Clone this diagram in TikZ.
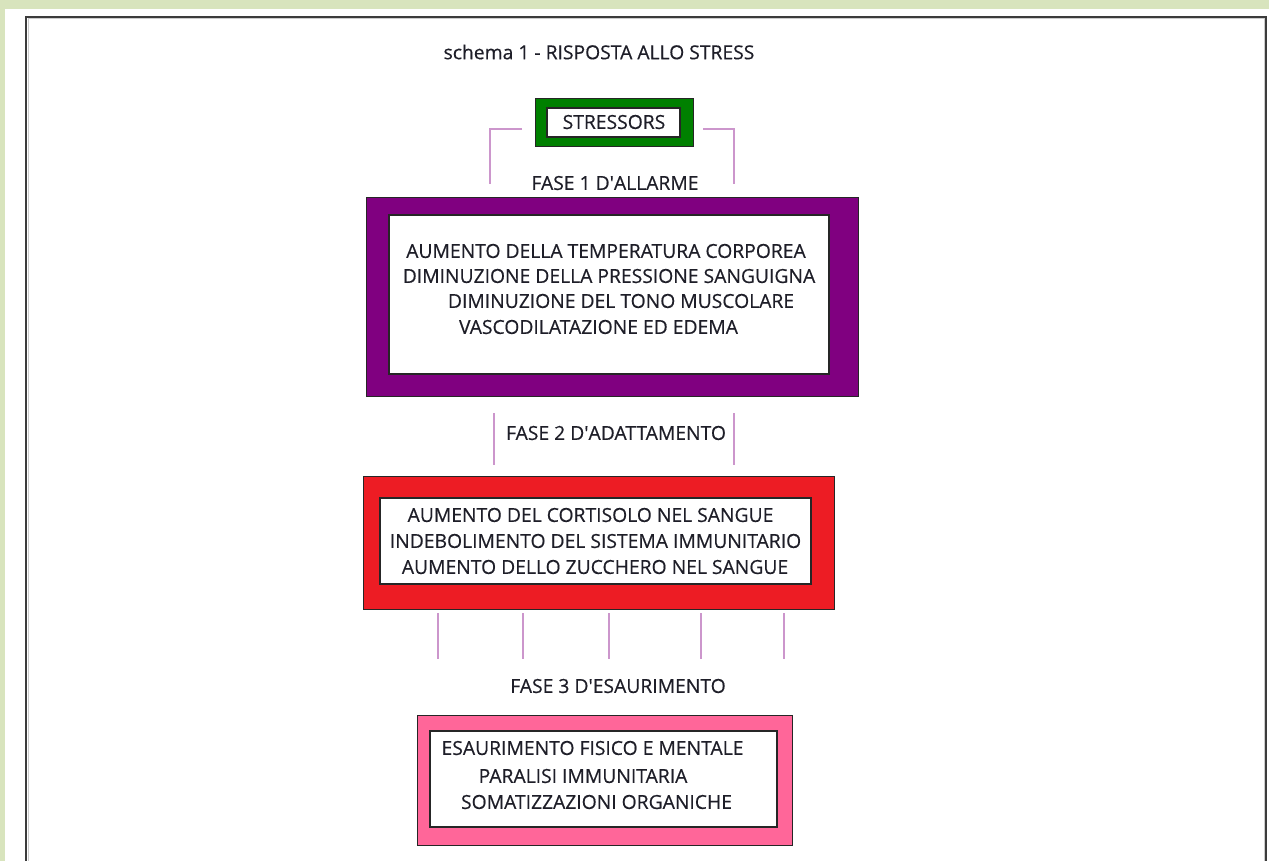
\documentclass[tikz,border=0pt]{standalone}
\usepackage{fontspec}
\setmainfont{Open Sans}
\newfontfamily\diafont{Open Sans}[FakeBold=0.4]
\definecolor{pagegreen}{RGB}{216,228,189}
\definecolor{framegray}{RGB}{60,60,60}
\definecolor{txt}{RGB}{30,30,40}
\definecolor{linkpink}{RGB}{204,150,204}
\definecolor{stressgreen}{RGB}{0,128,0}
\definecolor{alarmpurple}{RGB}{128,0,128}
\definecolor{adaptred}{RGB}{237,28,36}
\definecolor{exhaustpink}{RGB}{255,102,153}
\newcommand{\apo}{\textquotesingle}
\tikzset{
  outerbox/.style={draw=black!85, line width=1pt, inner sep=0pt},
  innerbox/.style={draw=black!85, fill=white, line width=1.4pt, inner sep=0pt},
  line/.style={text=txt, inner sep=0pt, font=\diafont\fontsize{19.3}{22}\selectfont},
  link/.style={draw=linkpink, line width=2pt},
}
\begin{document}
\begin{tikzpicture}[x=1pt, y=-1pt]
  % page background and frame
  \fill[pagegreen] (0,0) rectangle (1269,861);
  \fill[white] (5,9) rectangle (1269,861);
  \useasboundingbox (0,0) rectangle (1269,861);
  \draw[black!20, line width=1pt] (28,861) -- (28,19) -- (1264,19) -- (1264,861);
  \draw[framegray, line width=2pt] (26,861) -- (26,17) -- (1266,17) -- (1266,861);

  % title
  \node[line] (title) at (599,52) {schema 1 - RISPOSTA ALLO STRESS};

  % stressors
  \node[outerbox, fill=stressgreen, minimum width=158pt, minimum height=48pt] (sOut) at (614,123) {};
  \node[innerbox, minimum width=133pt, minimum height=29pt] (sIn) at (613.5,122.5) {};
  \node[line] (stressors) at (614,122) {STRESSORS};

  % phase 1 bracket
  \coordinate (b1a) at (522,129);
  \coordinate (b1b) at (490,129);
  \coordinate (b1c) at (490,184);
  \coordinate (b2a) at (703,129);
  \coordinate (b2b) at (734,129);
  \coordinate (b2c) at (734,184);
  \draw[link] (b1a) -- (b1b) -- (b1c);
  \draw[link] (b2a) -- (b2b) -- (b2c);
  \node[line] (fase1) at (615,183) {FASE 1 D\apo ALLARME};

  % phase 1 box
  \node[outerbox, fill=alarmpurple, minimum width=492pt, minimum height=198pt] (aOut) at (612,297) {};
  \node[innerbox, minimum width=440pt, minimum height=159pt] (aIn) at (609,294.5) {};
  \node[line] (a1) at (606,251) {AUMENTO DELLA TEMPERATURA CORPOREA};
  \node[line] (a2) at (609,276) {DIMINUZIONE DELLA PRESSIONE SANGUIGNA};
  \node[line] (a3) at (621,301) {DIMINUZIONE DEL TONO MUSCOLARE};
  \node[line] (a4) at (598.5,327) {VASCODILATAZIONE ED EDEMA};

  % phase 2 links
  \coordinate (c1a) at (494,413);
  \coordinate (c1b) at (494,465);
  \coordinate (c2a) at (734,413);
  \coordinate (c2b) at (734,465);
  \draw[link] (c1a) -- (c1b);
  \draw[link] (c2a) -- (c2b);
  \node[line] (fase2) at (616,433) {FASE 2 D\apo ADATTAMENTO};

  % phase 2 box
  \node[outerbox, fill=adaptred, minimum width=471pt, minimum height=133pt] (rOut) at (598.5,542.5) {};
  \node[innerbox, minimum width=431pt, minimum height=86pt] (rIn) at (595.5,541) {};
  \node[line] (r1) at (590.5,515) {AUMENTO DEL CORTISOLO NEL SANGUE};
  \node[line] (r2) at (595.5,541) {INDEBOLIMENTO DEL SISTEMA IMMUNITARIO};
  \node[line] (r3) at (595,567) {AUMENTO DELLO ZUCCHERO NEL SANGUE};

  % phase 3 links
  \foreach \x [count=\i] in {438,523,609,701,784} {
    \coordinate (d\i a) at (\x,613);
    \coordinate (d\i b) at (\x,659);
    \draw[link] (d\i a) -- (d\i b);
  }
  \node[line] (fase3) at (618,686) {FASE 3 D\apo ESAURIMENTO};

  % phase 3 box
  \node[outerbox, fill=exhaustpink, minimum width=375pt, minimum height=130pt] (pOut) at (604.5,780) {};
  \node[innerbox, minimum width=347pt, minimum height=96pt] (pIn) at (603.5,779) {};
  \node[line] (p1) at (592.5,748) {ESAURIMENTO FISICO E MENTALE};
  \node[line] (p2) at (583,776) {PARALISI IMMUNITARIA};
  \node[line] (p3) at (596.5,802) {SOMATIZZAZIONI ORGANICHE};
\end{tikzpicture}
\end{document}
